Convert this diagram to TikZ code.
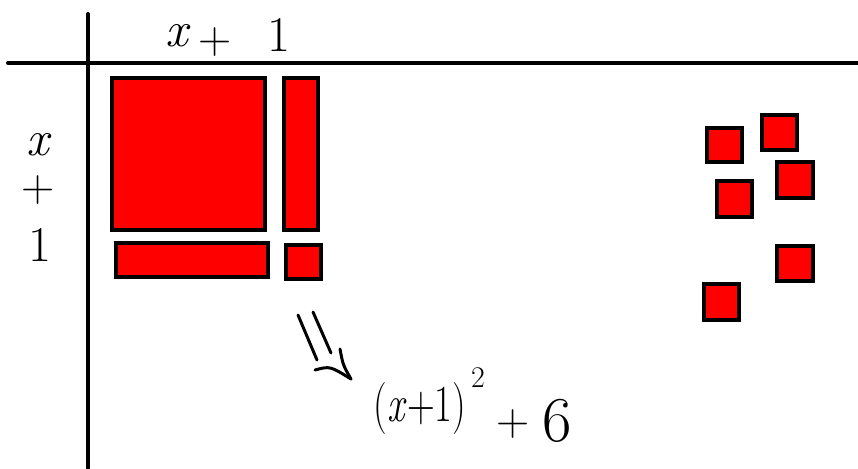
\documentclass[tikz,border=0pt]{standalone}
\usepackage{graphicx}
\usetikzlibrary{arrows.meta}
\begin{document}
\begin{tikzpicture}[x=1pt,y=-1pt,
  axis/.style={line width=4pt,line cap=round},
  tile/.style={draw=black,line width=4pt,fill=red},
  lbl/.style={inner sep=0pt,font=\fontsize{50}{56}\selectfont},
  plus/.style={inner sep=0pt,font=\fontsize{46}{50}\selectfont},
  pen/.style={line width=3pt,line cap=round,line join=round}]
\useasboundingbox (0,0) rectangle (858,468);
% axes
\draw[axis] (8,63) -- (858,63);
\draw[axis] (88,14) -- (88,468);
% labels
\node[lbl] (tx) at (177,36) {\itshape x};
\node[plus] (tp) at (215,42) {+};
\node[lbl] (t1) at (279,35) {1};
\node[lbl] (lx) at (38,145) {\itshape x};
\node[plus] (lp) at (38,190) {+};
\node[lbl] (l1) at (40,245) {1};
% algebra tiles
\draw[tile] (112,78) rectangle (265,230);
\draw[tile] (284,78) rectangle (318,230);
\draw[tile] (116,243) rectangle (268,277);
\draw[tile] (286,245) rectangle (321,279);
% unit tiles
\draw[tile] (707,128) rectangle (742,162);
\draw[tile] (762,115) rectangle (797,150);
\draw[tile] (777,162) rectangle (813,198);
\draw[tile] (717,181) rectangle (752,217);
\draw[tile] (777,246) rectangle (813,281);
\draw[tile] (704,284) rectangle (739,320);
% arrow (hand-drawn double arrow)
\coordinate (s1) at (298,315);
\coordinate (e1) at (317,360);
\coordinate (s2) at (313,312);
\coordinate (e2) at (331,353);
\coordinate (tip) at (351,379);
\coordinate (wl) at (315,370);
\coordinate (wr) at (340,349);
\draw[pen] (s1) -- (e1);
\draw[pen] (s2) -- (e2);
\draw[pen] (wl) .. controls (330,366) .. (tip);
\draw[pen] (wr) .. controls (343,365) .. (tip);
% result
\node[inner sep=0pt,font=\fontsize{52}{56}\selectfont] (res) at (420,409) {\scalebox{0.74}[1]{(\textit{x}+1)}};
\node[inner sep=0pt,font=\fontsize{30}{34}\selectfont] (sq) at (478,378) {2};
\node[plus] (rp) at (513,424) {+};
\node[inner sep=0pt,font=\fontsize{64}{70}\selectfont] (six) at (557,421) {6};
\end{tikzpicture}
\end{document}
